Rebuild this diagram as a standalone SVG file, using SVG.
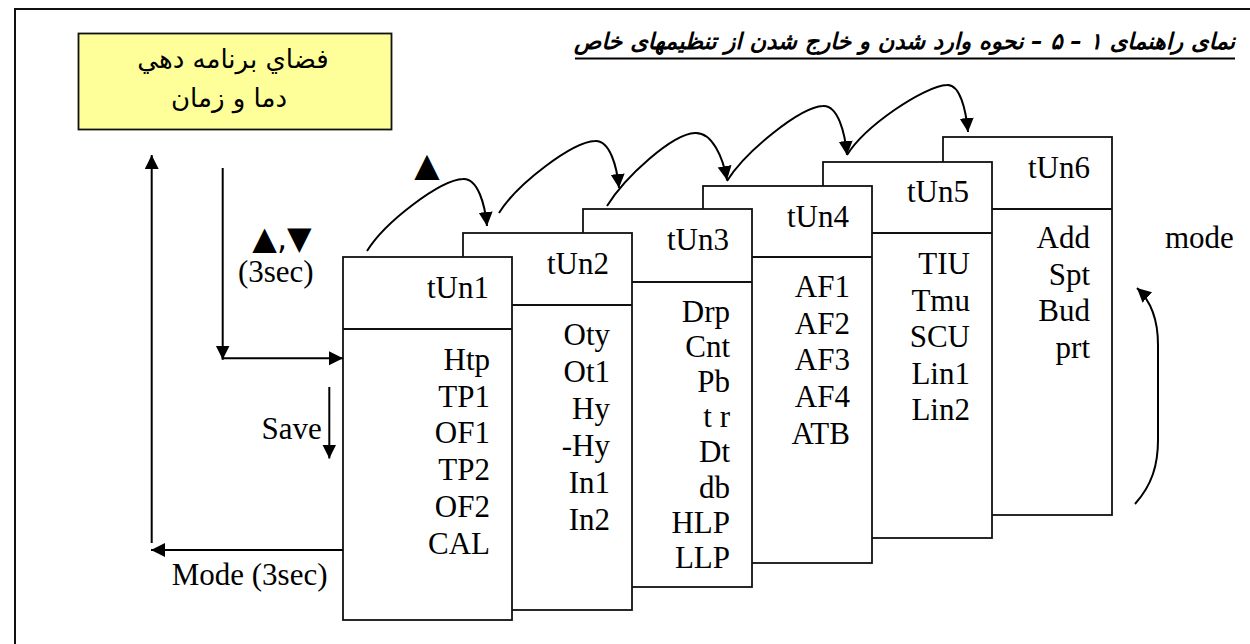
<svg xmlns="http://www.w3.org/2000/svg" width="1250" height="644" viewBox="0 0 1250 644">
<defs>
<style>
.frame{fill:none;stroke:#111;stroke-width:2}
.box{fill:#fff;stroke:#111;stroke-width:1.8}
.div{stroke:#111;stroke-width:1.8}
.conn{fill:none;stroke:#000;stroke-width:2}
.t{font-family:"Liberation Serif","Times New Roman",serif;font-size:31px;fill:#000}
.hdr{text-anchor:end}
.fa{font-family:"DejaVu Sans","Noto Sans",sans-serif;fill:#000}
.sym{font-family:"DejaVu Sans",sans-serif;fill:#000}
</style>
<marker id="ah" markerUnits="userSpaceOnUse" markerWidth="15" markerHeight="15" refX="14" refY="7" orient="auto">
<path d="M0,0 L14,7 L0,14 z" fill="#000"/>
</marker>
</defs>
<rect width="1250" height="644" fill="#fff"/>
<path class="frame" d="M15,644 L15,9 L1250,9"/>

<g id="title">
<text class="fa" x="1235" y="48.5" font-size="22.6" font-weight="bold" font-style="italic" text-anchor="end">نمای راهنمای ۱ – ۵ – نحوه وارد شدن و خارج شدن از تنظیمهای خاص</text>
<line x1="575" y1="58.5" x2="1235" y2="58.5" stroke="#000" stroke-width="2.2"/>
</g>

<g id="program-space">
<rect x="78.5" y="33.5" width="313" height="96" fill="#ffff99" stroke="#111" stroke-width="1.8"/>
<text class="fa" x="233" y="68" font-size="26" text-anchor="middle">فضاي برنامه دهي</text>
<text class="fa" x="229" y="107" font-size="26" text-anchor="middle">دما و زمان</text>
</g>

<g id="tUn6">
<rect class="box" x="943" y="137" width="169" height="378"/>
<line class="div" x1="943" y1="209" x2="1112" y2="209"/>
<text class="t hdr" x="1090" y="178">tUn6</text>
<text class="t hdr"><tspan x="1090" y="248">Add</tspan><tspan x="1090" dy="36.7">Spt</tspan><tspan x="1090" dy="36.7">Bud</tspan><tspan x="1090" dy="36.7">prt</tspan></text>
</g>

<g id="tUn5">
<rect class="box" x="823" y="162" width="169" height="376"/>
<line class="div" x1="823" y1="233" x2="992" y2="233"/>
<text class="t hdr" x="969" y="202">tUn5</text>
<text class="t hdr"><tspan x="970" y="274">TIU</tspan><tspan x="970" dy="36.5">Tmu</tspan><tspan x="970" dy="36.5">SCU</tspan><tspan x="970" dy="36.5">Lin1</tspan><tspan x="970" dy="36.5">Lin2</tspan></text>
</g>

<g id="tUn4">
<rect class="box" x="703" y="186" width="169" height="377"/>
<line class="div" x1="703" y1="257" x2="872" y2="257"/>
<text class="t hdr" x="849" y="227">tUn4</text>
<text class="t hdr"><tspan x="850" y="297">AF1</tspan><tspan x="850" dy="36.7">AF2</tspan><tspan x="850" dy="36.7">AF3</tspan><tspan x="850" dy="36.7">AF4</tspan><tspan x="850" dy="36.7">ATB</tspan></text>
</g>

<g id="tUn3">
<rect class="box" x="583" y="209" width="169" height="378"/>
<line class="div" x1="583" y1="282" x2="752" y2="282"/>
<text class="t hdr" x="729" y="250">tUn3</text>
<text class="t hdr"><tspan x="730" y="322">Drp</tspan><tspan x="730" dy="35.1">Cnt</tspan><tspan x="730" dy="35.1">Pb</tspan><tspan x="730" dy="35.1">t r</tspan><tspan x="730" dy="35.1">Dt</tspan><tspan x="730" dy="35.1">db</tspan><tspan x="730" dy="35.1">HLP</tspan><tspan x="730" dy="35.1">LLP</tspan></text>
</g>

<g id="tUn2">
<rect class="box" x="463" y="233" width="169" height="377"/>
<line class="div" x1="463" y1="305" x2="632" y2="305"/>
<text class="t hdr" x="609" y="274">tUn2</text>
<text class="t hdr"><tspan x="610" y="345">Oty</tspan><tspan x="610" dy="37">Ot1</tspan><tspan x="610" dy="37">Hy</tspan><tspan x="610" dy="37">-Hy</tspan><tspan x="610" dy="37">In1</tspan><tspan x="610" dy="37">In2</tspan></text>
</g>

<g id="tUn1">
<rect class="box" x="343" y="257" width="169" height="363"/>
<line class="div" x1="343" y1="329" x2="512" y2="329"/>
<text class="t hdr" x="489" y="298">tUn1</text>
<text class="t hdr"><tspan x="490" y="370">Htp</tspan><tspan x="490" dy="36.7">TP1</tspan><tspan x="490" dy="36.7">OF1</tspan><tspan x="490" dy="36.7">TP2</tspan><tspan x="490" dy="36.7">OF2</tspan><tspan x="490" dy="36.7">CAL</tspan></text>
</g>

<g id="connectors">
<path class="conn" d="M151.7,543 L151.7,155" marker-end="url(#ah)"/>
<path class="conn" d="M343,550 L151,550" marker-end="url(#ah)"/>
<path class="conn" d="M222.7,168 L222.7,359.5"/>
<path class="conn" d="M222.7,358.3 L343,358.3" marker-end="url(#ah)"/>
<path class="conn" d="M222.7,346 L222.7,359.5" marker-end="url(#ah)"/>
<path class="conn" d="M329.3,387 L329.3,458.5" marker-end="url(#ah)"/>
<path class="conn" d="M367,251 C385,222 440,180 463,179 C478,178 485,205 487,226" marker-end="url(#ah)"/>
<path class="conn" d="M499,213 C517,184 572,142 595,141 C610,140 617,167 619,188" marker-end="url(#ah)"/>
<path class="conn" d="M607,206 C625,177 672,134 695,133 C712,132 723,157 727,180" marker-end="url(#ah)"/>
<path class="conn" d="M727,181 C745,152 800,107 823,106 C838,105 845,133 847,155" marker-end="url(#ah)"/>
<path class="conn" d="M847,155 C865,126 924,86 947,85 C960,84 966,110 968,132" marker-end="url(#ah)"/>
<path class="conn" d="M1135,504 C1152,485 1158,465 1158,440 L1158,345 C1158,320 1150,300 1137,288" marker-end="url(#ah)"/>
</g>

<g id="labels">
<text class="sym" x="282" y="249" font-size="32" text-anchor="middle">▲,▼</text>
<text class="t" x="275.8" y="281.7" font-size="26" text-anchor="middle">(3sec)</text>
<text class="sym" x="427" y="176" font-size="33" text-anchor="middle">▲</text>
<text class="t" x="321.7" y="439" text-anchor="end">Save</text>
<text class="t" x="171.7" y="585">Mode (3sec)</text>
<text class="t" x="1165" y="248.3" font-size="28">mode</text>
</g>
</svg>
